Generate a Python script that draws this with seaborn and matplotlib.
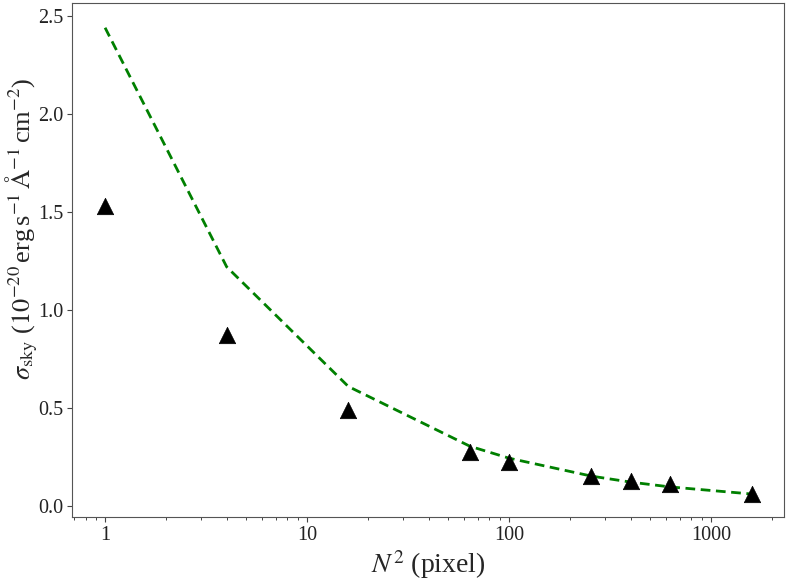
import numpy as np
import pandas as pd
import matplotlib
matplotlib.use('Agg')
import matplotlib.pyplot as plt
import matplotlib.ticker as mticker
import seaborn as sns

# ── Data ───────────────────────────────────────────────────────────────────
n2_pixels = [1, 4, 16, 64, 100, 256, 400, 625, 1600]
sigma_measured = [1.53, 0.87, 0.49, 0.275, 0.225, 0.155, 0.128, 0.112, 0.062]
sigma_expected = [2.44, 1.22, 0.61, 0.305, 0.244, 0.1525, 0.122, 0.0976, 0.061]

df = pd.DataFrame({'N2': n2_pixels, 'measured': sigma_measured, 'expected': sigma_expected})

sns.set_style('ticks')
plt.rcParams['font.family'] = ['Liberation Serif', 'DejaVu Serif']
plt.rcParams['mathtext.fontset'] = 'stix'

fig = plt.figure(figsize=(7.89, 5.82), dpi=100)
ax = fig.add_axes([0.0913, 0.1117, 0.9024, 0.8831])

sns.lineplot(data=df, x='N2', y='expected', ax=ax, color='green', lw=2,
             linestyle=(0, (3.5, 2)))
sns.scatterplot(data=df, x='N2', y='measured', ax=ax, marker='^', color='black',
                s=140, edgecolor='black', linewidth=0.5, zorder=3)

ax.set_xscale('log')
ax.set_xlim(0.686, 2300)
ax.set_ylim(-0.056, 2.566)
ax.set_yticks([0.0, 0.5, 1.0, 1.5, 2.0, 2.5])
ax.xaxis.set_major_formatter(mticker.FuncFormatter(lambda v, p: f'{v:g}'))
ax.tick_params(labelsize=14.5, colors='#222222', pad=3)
ax.tick_params(axis='both', which='major', color='#444444')
for sp in ax.spines.values():
    sp.set_color('#555555')

ax.set_xlabel(r'$N^2$ (pixel)', fontsize=20, labelpad=2)
ax.set_ylabel(r'$\sigma_{\rm sky}$ ($10^{-20}\,$erg$\,$s$^{-1}\,\mathrm{\AA}^{-1}\,$cm$^{-2}$)',
              fontsize=19)
ax.yaxis.set_label_coords(-0.045, 0.56)

fig.savefig('out.png', dpi=100)
